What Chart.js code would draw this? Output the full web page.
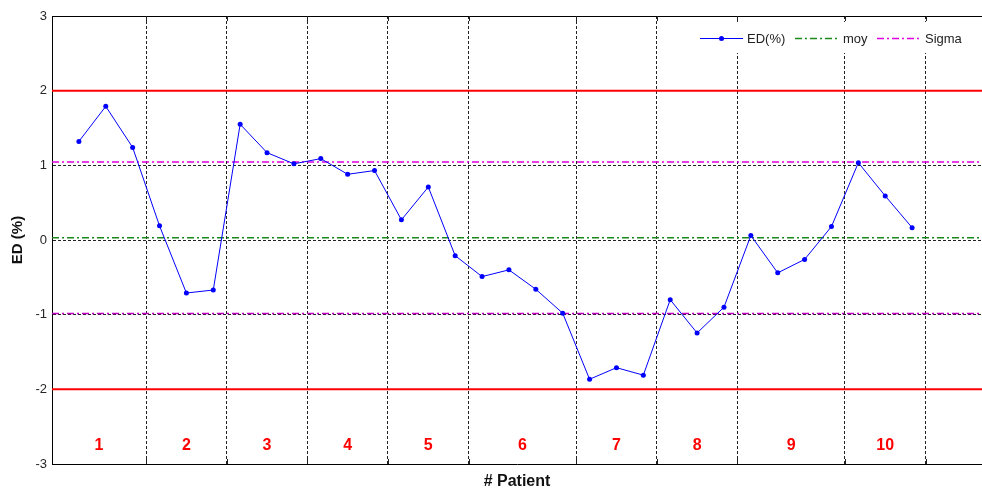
<!DOCTYPE html>
<html>
<head>
<meta charset="utf-8">
<script src="https://cdn.jsdelivr.net/npm/chart.js@4/dist/chart.umd.min.js"></script>
<style>
html,body{margin:0;padding:0;background:#fff;}
#c{display:block;}
</style>
</head>
<body>
<canvas id="c" width="982" height="490"></canvas>
<script>
// ---- data ----
const edValues = [1.32, 1.79, 1.24, 0.19, -0.71, -0.67, 1.55, 1.17, 1.02, 1.09, 0.88,
  0.93, 0.27, 0.71, -0.21, -0.49, -0.40, -0.66, -0.98, -1.865, -1.71, -1.81,
  -0.80, -1.245, -0.90, 0.06, -0.44, -0.26, 0.18, 1.035, 0.59, 0.165];
const groupBounds = [3.5, 6.5, 9.5, 12.5, 15.5, 19.5, 22.5, 25.5, 29.5, 32.5];
const groupLabels = ['1','2','3','4','5','6','7','8','9','10'];
const limitValues = [2, -2];
const moyValue = 0.03;
const sigmaValues = [1.045, -0.985];
const yTicks = [-3, -2, -1, 0, 1, 2, 3];
const xMin = 0, xMax = 34.6;

const FONT = "'Liberation Sans', Arial, sans-serif";
const edPoints = edValues.map((v, i) => ({x: i + 1, y: v}));
const hline = v => [{x: xMin, y: v}, {x: xMax, y: v}];
const DASHDOT = [7, 3, 2, 3];

const datasets = [
  {label: 'ED(%)', data: edPoints, borderColor: '#0000ff', backgroundColor: '#0000ff',
   borderWidth: 1, pointRadius: 2.5, pointStyle: 'circle', pointBorderWidth: 0, showInLegend: true},
  {label: 'moy', data: hline(moyValue), borderColor: '#1a8a1a', borderWidth: 1.5,
   borderDash: DASHDOT, pointRadius: 0, showInLegend: true},
  {label: 'Sigma', data: hline(sigmaValues[0]), borderColor: '#e000e0', borderWidth: 1.5,
   borderDash: DASHDOT, pointRadius: 0, showInLegend: true},
  {label: 'Sigma-', data: hline(sigmaValues[1]), borderColor: '#c000c0', borderWidth: 1.5,
   borderDash: DASHDOT, pointRadius: 0},
];
limitValues.forEach(v => datasets.push({label: 'lim', data: hline(v), borderColor: '#ff0000',
  borderWidth: 2, pointRadius: 0}));

const extrasPlugin = {
  id: 'extras',
  afterDraw(chart) {
    const {ctx, chartArea: a, scales: {x, y}} = chart;
    ctx.save();
    // top frame
    ctx.strokeStyle = '#000'; ctx.lineWidth = 1;
    ctx.beginPath(); ctx.moveTo(a.left, a.top + 0.5); ctx.lineTo(a.right, a.top + 0.5); ctx.stroke();
    // inward tick marks at separators
    ctx.strokeStyle = '#222';
    groupBounds.forEach(b => {
      const px = Math.round(x.getPixelForValue(b)) + 0.5;
      ctx.beginPath(); ctx.moveTo(px, a.top); ctx.lineTo(px, a.top + 5); ctx.stroke();
      ctx.beginPath(); ctx.moveTo(px, a.bottom); ctx.lineTo(px, a.bottom - 5); ctx.stroke();
    });
    // group labels
    ctx.fillStyle = '#ff0000';
    ctx.font = 'bold 16px ' + FONT;
    ctx.textAlign = 'center'; ctx.textBaseline = 'middle';
    const starts = [xMin].concat(groupBounds.slice(0, -1));
    groupLabels.forEach((t, i) => {
      const cx = x.getPixelForValue((starts[i] + groupBounds[i]) / 2);
      ctx.fillText(t, cx, y.getPixelForValue(-2.76));
    });
    // legend
    ctx.fillStyle = '#fff';
    ctx.fillRect(693, 22, a.right - 693, 31);
    ctx.font = '13px ' + FONT;
    ctx.textAlign = 'left';
    const ly = 38;
    const items = chart.data.datasets.filter(d => d.showInLegend);
    const xs = [[700, 743, 747], [795, 840, 843], [877, 920, 925]];
    items.forEach((d, i) => {
      const [x0, x1, tx] = xs[i];
      ctx.strokeStyle = d.borderColor; ctx.lineWidth = d.borderWidth;
      ctx.setLineDash(d.borderDash || []);
      ctx.beginPath(); ctx.moveTo(x0, ly + 0.5); ctx.lineTo(x1, ly + 0.5); ctx.stroke();
      ctx.setLineDash([]);
      if (d.pointRadius) {
        ctx.fillStyle = d.borderColor;
        ctx.beginPath(); ctx.arc((x0 + x1) / 2, ly + 0.5, d.pointRadius, 0, Math.PI * 2); ctx.fill();
      }
      ctx.fillStyle = '#222';
      ctx.fillText(d.label, tx, ly + 1);
    });
    ctx.restore();
  }
};

new Chart(document.getElementById('c'), {
  type: 'line',
  data: {datasets},
  plugins: [extrasPlugin],
  options: {
    responsive: false,
    animation: false,
    layout: {autoPadding: false, padding: {top: 16, right: 0, left: 0, bottom: 0}},
    plugins: {legend: {display: false}, tooltip: {enabled: false}},
    elements: {line: {tension: 0}},
    scales: {
      x: {
        type: 'linear', min: xMin, max: xMax,
        afterBuildTicks: s => { s.ticks = groupBounds.map(v => ({value: v})); },
        afterFit: s => { s.height = 26; },
        ticks: {display: false},
        grid: {color: '#222', lineWidth: 1, drawTicks: false},
        border: {display: true, color: '#000', width: 1, dash: [3, 2]},
        title: {display: true, text: '# Patient', color: '#111',
          font: {family: FONT, size: 16, weight: 'bold', lineHeight: 1}, padding: {top: 0, bottom: 0}}
      },
      y: {
        type: 'linear', min: -3, max: 3,
        afterBuildTicks: s => { s.ticks = yTicks.map(v => ({value: v})); },
        afterFit: s => { s.width = 52; },
        ticks: {color: '#262626', font: {family: FONT, size: 13}, padding: 5},
        grid: {drawTicks: false, lineWidth: 1,
          color: c => (Math.abs(c.tick.value) === 3 ? 'rgba(0,0,0,0)' : '#222')},
        border: {display: true, color: '#000', width: 1, dash: [3, 2]},
        title: {display: true, text: 'ED (%)', color: '#111',
          font: {family: FONT, size: 15, weight: 'bold', lineHeight: 1}, padding: {top: 10, bottom: 0}}
      }
    }
  }
});
</script>
</body>
</html>
